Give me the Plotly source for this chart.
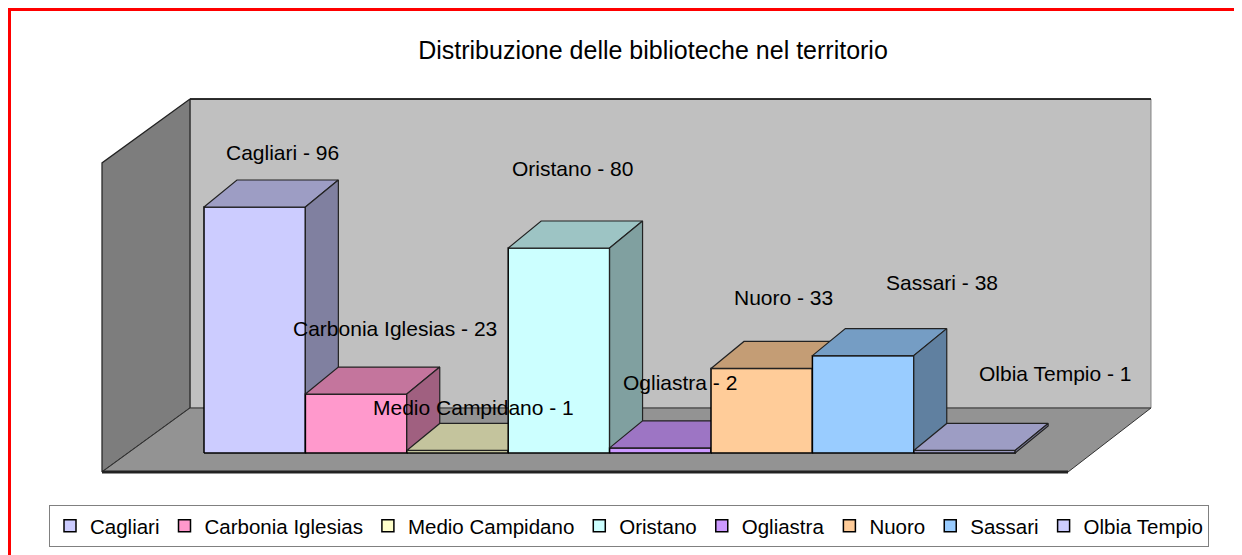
import plotly.graph_objects as go

# ---------------- data ----------------
categories = ["Cagliari", "Carbonia Iglesias", "Medio Campidano", "Oristano",
              "Ogliastra", "Nuoro", "Sassari", "Olbia Tempio"]
values = [96, 23, 1, 80, 2, 33, 38, 1]
front_colors = ["#CCCCFF", "#FF99CC", "#FFFFCC", "#CCFFFF",
                "#CC99FF", "#FFCC99", "#99CCFF", "#CCCCFF"]
title_text = "Distribuzione delle biblioteche nel territorio"

# data-label offsets in pixels from the front-top centre of each bar
label_dx = [28, 39, 16, 14, 20, 22, 79, 91]
label_dy = [55, 66, 43, 80, 65, 71, 73, 77]

# ---------------- geometry (axis units) ----------------
BDX, BDY = 0.325, 10.54            # depth offset of the bars
FX0, FX0B = -1.506, -0.638         # left wall front / back x
FX1, FX1B = 8.021, 8.839           # floor right front / back x
FY0, FY1 = -7.41, 17.56            # floor front / back level
WALL_TOP, LWALL_TOP = 138.15, 113.2
FONT = "Liberation Sans, Arial, sans-serif"
W, H = 1242, 555
OFF = 8  # page margin around the figure


def shade(hexcol, f):
    h = hexcol.lstrip("#")
    r, g, b = (int(h[k:k + 2], 16) for k in (0, 2, 4))
    return "#%02X%02X%02X" % (int(r * f), int(g * f), int(b * f))


def poly(xs, ys, fill, line="black", width=1.2, dash="solid"):
    return go.Scatter(x=list(xs) + [xs[0]], y=list(ys) + [ys[0]], mode="lines",
                      fill="toself", fillcolor=fill,
                      line=dict(color=line, width=width, dash=dash),
                      showlegend=False, hoverinfo="skip")


fig = go.Figure()

# legend / base bars (library bars)
for i, (c, v, col) in enumerate(zip(categories, values, front_colors)):
    fig.add_trace(go.Bar(x=[i], y=[v], width=1, name=c,
                         marker=dict(color=col, line=dict(color="black", width=1.5)),
                         hoverinfo="skip"))

# walls and floor
fig.add_trace(poly([FX0B, FX1B, FX1B, FX0B], [FY1, FY1, WALL_TOP, WALL_TOP],
                   "#C0C0C0", line="#808080", width=1))
fig.add_trace(go.Scatter(x=[FX0B, FX1B], y=[WALL_TOP, WALL_TOP], mode="lines",
                         line=dict(color="black", width=1.5), showlegend=False, hoverinfo="skip"))
fig.add_trace(poly([FX0, FX0, FX0B, FX0B], [FY0, LWALL_TOP, WALL_TOP, FY1],
                   "#7D7D7D", line="#222222", width=1.2))
fig.add_trace(poly([FX0, FX1, FX1B, FX0B], [FY0, FY0, FY1, FY1],
                   "#939393", line="#333333", width=1))
fig.add_trace(go.Scatter(x=[FX0, FX1], y=[FY0, FY0], mode="lines",
                         line=dict(color="#222222", width=3), showlegend=False, hoverinfo="skip"))

# 3D boxes, drawn left to right so later boxes hide earlier side faces
for i, (v, col) in enumerate(zip(values, front_colors)):
    l, r = i - 0.5, i + 0.5
    fig.add_trace(poly([l, r, r, l], [0, 0, v, v], col, width=1.5))
    fig.add_trace(poly([l, r, r + BDX, l + BDX], [v, v, v + BDY, v + BDY],
                       shade(col, 0.77), line="#222222"))
    fig.add_trace(poly([r, r, r + BDX, r + BDX], [0, v, v + BDY, BDY],
                       shade(col, 0.63), line="#222222"))

# data labels
for i, (c, v) in enumerate(zip(categories, values)):
    fig.add_annotation(x=i, y=v, xref="x", yref="y", text=f"{c} - {v}",
                       showarrow=False, xshift=label_dx[i], yshift=label_dy[i],
                       font=dict(family=FONT, size=21, color="black"))

fig.add_shape(type="rect", xref="paper", yref="paper",
              x0=1.5 / W, x1=1.05, y0=-0.05, y1=1 - 1.5 / H,
              line=dict(color="red", width=3))

# screen pixel -> axis unit mapping (bar pitch 101.4 px, 2.5625 px per unit)
XPX, YPX, X0PX, Y0PX = 101.4, 2.5625, 254.7, 453.0
x_rng = [(OFF - X0PX) / XPX, (OFF + W - X0PX) / XPX]
y_rng = [(Y0PX - OFF - H) / YPX, (Y0PX - OFF) / YPX]

fig.update_layout(
    width=W, height=H,
    margin=dict(l=0, r=0, t=0, b=0),
    paper_bgcolor="white", plot_bgcolor="white",
    barmode="overlay",
    title=dict(text=title_text, x=(653 - OFF) / W, xanchor="center",
               y=1 - (50 - OFF) / H, yanchor="middle",
               font=dict(family=FONT, size=25, color="black")),
    xaxis=dict(visible=False, range=x_rng, fixedrange=True),
    yaxis=dict(visible=False, range=y_rng, fixedrange=True),
    legend=dict(orientation="h", x=(629 - OFF) / W, xanchor="center",
                y=1 - (505 - OFF) / H, yanchor="top",
                bordercolor="#808080", borderwidth=1, bgcolor="white",
                font=dict(family=FONT, size=20.5, color="black"),
                traceorder="normal"),
    showlegend=True,
)

fig.write_html("out.html")
